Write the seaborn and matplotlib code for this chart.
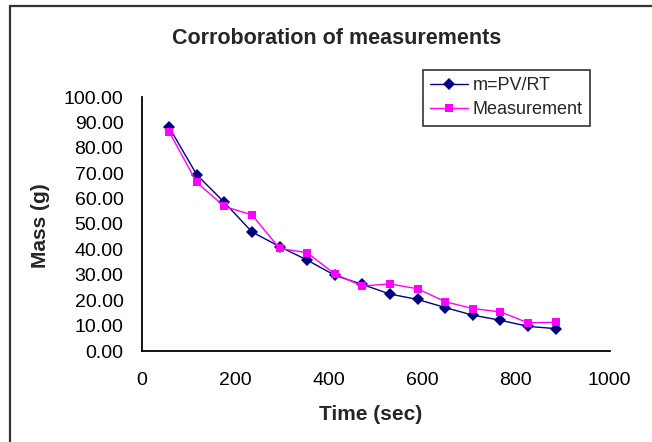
import matplotlib
matplotlib.use("Agg")
import matplotlib.pyplot as plt
import seaborn as sns
import pandas as pd
from matplotlib.patches import Rectangle

time_sec = [59, 118, 177, 236, 295, 354, 413, 472, 531, 590, 649, 708, 767, 826, 885]
calc_mass = [88.1, 69.4, 58.5, 46.9, 41.1, 35.8, 29.8, 26.2, 22.4, 20.3, 17.1, 14.1, 12.1, 9.7, 8.8]
meas_mass = [86.3, 66.4, 56.9, 53.6, 40.4, 38.7, 30.3, 25.6, 26.4, 24.5, 19.4, 16.7, 15.4, 11.1, 11.3]
series_names = ["m=PV/RT", "Measurement"]
x_ticks = [0, 200, 400, 600, 800, 1000]
y_ticks = [0, 10, 20, 30, 40, 50, 60, 70, 80, 90, 100]

df = pd.DataFrame({
    "Time": time_sec * 2,
    "Mass": calc_mass + meas_mass,
    "Series": [series_names[0]] * len(time_sec) + [series_names[1]] * len(time_sec),
})

sns.set_style("white")
plt.rcParams["font.family"] = ["Liberation Sans", "DejaVu Sans"]

W, H = 652, 442
fig = plt.figure(figsize=(W / 100, H / 100), dpi=100)
ax_left, ax_right, ax_top, ax_bottom = 141.5, 609.5, 97, 351
ax = fig.add_axes([ax_left / W, 1 - ax_bottom / H,
                   (ax_right - ax_left) / W, (ax_bottom - ax_top) / H])

palette = {series_names[0]: "#000080", series_names[1]: "#FF00FF"}
markers = {series_names[0]: "D", series_names[1]: "s"}
sns.lineplot(data=df, x="Time", y="Mass", hue="Series", style="Series",
             palette=palette, markers=markers, dashes=False, linewidth=1.0,
             markersize=6, markeredgewidth=0, ax=ax, legend=True)

ax.set_xlim(0, 1000)
ax.set_ylim(0, 100)
ax.set_xticks(x_ticks)
ax.set_yticks(y_ticks)
ax.set_yticklabels([f"{v:.2f}" for v in y_ticks])
ax.tick_params(axis="x", labelsize=14, length=4, width=1.2, direction="out",
               colors="black", pad=11)
ax.tick_params(axis="y", labelsize=14, length=5, width=1.2, direction="out",
               colors="black", pad=8)
ax.spines["top"].set_visible(False)
ax.spines["right"].set_visible(False)
for s in ("left", "bottom"):
    ax.spines[s].set_color("black")
    ax.spines[s].set_linewidth(1.3)
ax.grid(False)

ax.set_xlabel("Time (sec)", fontsize=15, fontweight="bold")
ax.set_ylabel("Mass (g)", fontsize=15, fontweight="bold")
span = ax_right - ax_left
hgt = ax_bottom - ax_top
ax.xaxis.set_label_coords((371 - ax_left) / span, (ax_bottom - 414) / hgt)
ax.xaxis.label.set_va("center")
ax.yaxis.set_label_coords((40 - ax_left) / span, (ax_bottom - 226) / hgt)
ax.yaxis.label.set_va("center")

fig.text(337 / W, 1 - 38 / H, "Corroboration of measurements",
         ha="center", va="center", fontsize=15.5, fontweight="bold")

leg = ax.legend(loc="upper left", bbox_to_anchor=(423 / W, 1 - 70 / H),
                bbox_transform=fig.transFigure, frameon=True, fancybox=False,
                fontsize=13, handlelength=2.1, borderpad=0.4, labelspacing=0.4,
                handletextpad=0.25, borderaxespad=0)
leg.get_frame().set_edgecolor("black")
leg.get_frame().set_linewidth(1.2)

fig.patches.append(Rectangle((10 / W, -0.1), 1.2, 1 - 6 / H + 0.1,
                             transform=fig.transFigure, fill=False,
                             edgecolor="#333333", linewidth=1.6))

fig.savefig("out.png", dpi=100)
